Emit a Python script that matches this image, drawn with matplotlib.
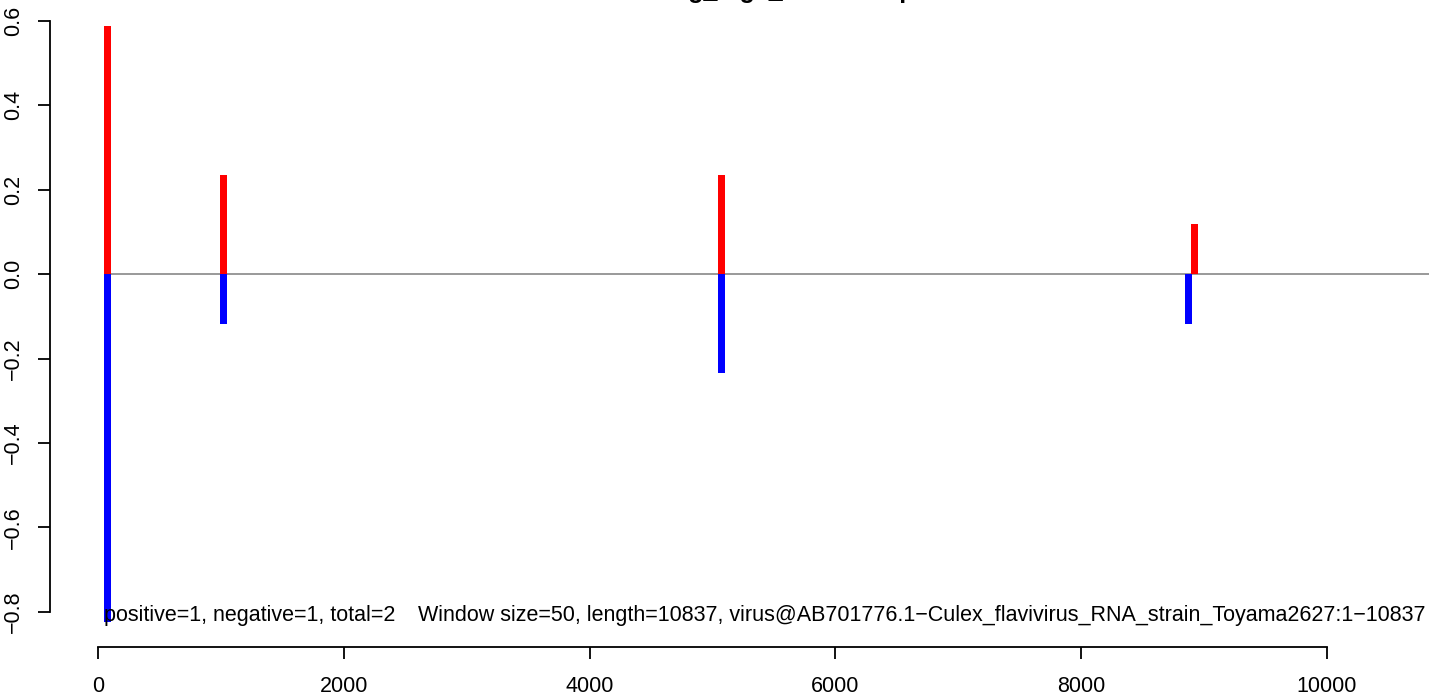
import matplotlib
matplotlib.use('Agg')
import matplotlib.pyplot as plt

plt.rcParams['font.family'] = ['Liberation Sans', 'DejaVu Sans']

# Positions (nt) and values of the windows
pos_x = [75, 1025, 5075, 8925]
pos_y = [0.588, 0.235, 0.235, 0.118]
neg_x = [75, 1025, 5075, 8875]
neg_y = [-0.823, -0.118, -0.235, -0.118]
seq_length = 10837
x_ticks = [0, 2000, 4000, 6000, 8000, 10000]
y_ticks = [-0.8, -0.6, -0.4, -0.2, 0.0, 0.2, 0.4, 0.6]

# title is cut off at the top of the reference; only descenders are visible
title = "Strong_log2_Windows plot"
info_left = "positive=1, negative=1, total=2"
info_right = ("Window size=50, length=10837, "
              "virus@AB701776.1\u2212Culex_flavivirus_RNA_strain_Toyama2627:1\u221210837")

W, H = 1429, 694
fig = plt.figure(figsize=(W / 100, H / 100), dpi=100)
ax = fig.add_axes([50 / W, 1 - 647 / H, 1 - 50 / W, 645 / H])
ax.set_xlim(-390.6, 10830)
ax.set_ylim(-0.883, 0.644)

ax.plot([pos_x[0], seq_length], [0, 0], color='#999999', lw=1.4, zorder=1)
ax.bar(pos_x, pos_y, width=57, color='red', zorder=2)
ax.bar(neg_x, neg_y, width=57, color='blue', zorder=2)

for s in ['top', 'right']:
    ax.spines[s].set_visible(False)
ax.spines['left'].set_bounds(y_ticks[0], y_ticks[-1])
ax.spines['bottom'].set_bounds(x_ticks[0], x_ticks[-1])
for s in ['left', 'bottom']:
    ax.spines[s].set_linewidth(1.3)

ax.set_xticks(x_ticks)
ax.set_xticklabels([str(v) for v in x_ticks])
ax.set_yticks(y_ticks)
ax.set_yticklabels(['\u2212%.1f' % -v if v < 0 else '%.1f' % v for v in y_ticks],
                   rotation=90, va='center')
ax.tick_params(axis='both', direction='out', length=8.6, width=1.3, labelsize=15.5)
ax.tick_params(axis='x', pad=12)
ax.tick_params(axis='y', pad=10)

ax.text(75 - 28, -0.808, info_left, fontsize=15.5, va='center', ha='left')
ax.text(2604, -0.808, info_right, fontsize=15.5, va='center', ha='left')

fig.text(623 / W, 1 + 2 / H, title, fontsize=18, fontweight='bold',
         ha='left', va='baseline')

fig.savefig('out.png', dpi=100)
